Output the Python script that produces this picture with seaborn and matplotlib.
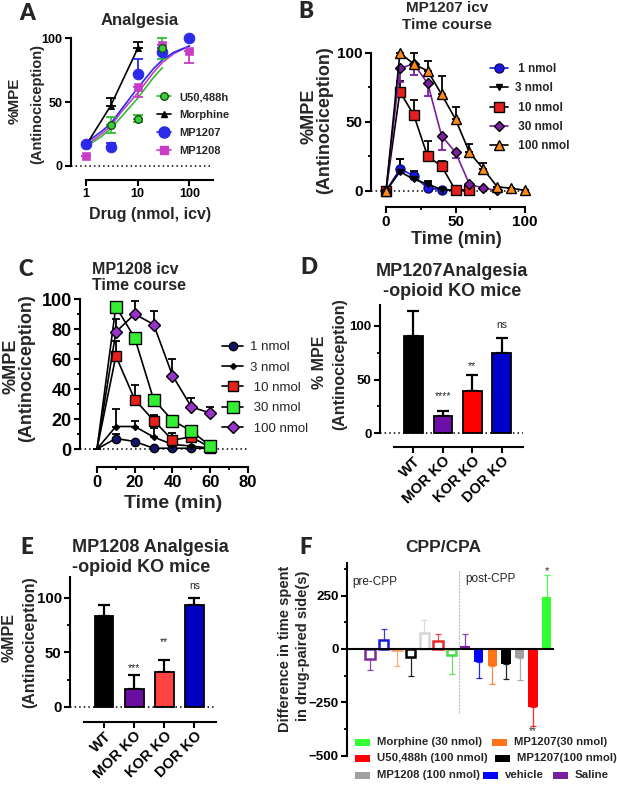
import numpy as np
import pandas as pd
import matplotlib
matplotlib.use("Agg")
import matplotlib.pyplot as plt
import seaborn as sns
from matplotlib.patches import Rectangle
from matplotlib.lines import Line2D
from matplotlib.ticker import FixedLocator, NullLocator

# ---------------- DATA ----------------
# Panel A: dose response (x = nmol, icv)
a_u50_x = [3, 10, 30]
a_u50_y = [32, 37, 92]
a_u50_err = [6, 3, 8]
a_mor_x = [1, 3, 10]
a_mor_y = [16, 47, 92]
a_mor_err = [0, 6, 5]
a_1207_x = [1, 3, 10, 30, 100]
a_1207_y = [17, 15, 72, 89, 100]
a_1207_err = [0, 3, 12, 3, 0]
a_1208_x = [1, 10, 30, 100]
a_1208_y = [8, 62, 95, 90]
a_1208_err = [0, 8, 5, 9]
# fitted curves, values
a_fit_x = [1, 2, 3, 5, 10, 20, 30, 50, 100]
a_fit_1207 = [18, 27, 33, 45, 61, 76, 83, 89, 94]
a_fit_1208 = [16, 25, 31, 43, 57, 73, 81, 88, 94]
a_fit_u50_x = [1, 2, 3, 5, 10, 20, 30]
a_fit_u50 = [15, 23, 29, 39, 53, 69, 77]

# Panel B: MP1207 time course
b_time = [0, 10, 20, 30, 40, 50, 60, 70, 80, 90, 100]
b_1 = [0, 16, 11, 2, 1, 0.5, 0.5]
b_1_err = [0, 7, 2, 1, 0, 0, 0]
b_3 = [0, 14, 8.5, 5, 1, 0.5, 0.5]
b_3_err = [0, 9, 6, 2, 0, 0, 0]
b_10 = [0, 72, 55, 25, 18, 0.5, 0.5]
b_10_err = [0, 8, 11, 11, 4, 0, 0]
b_30 = [0, 89, 92, 78, 40, 28, 5, 2, 0.5]
b_30_err = [0, -10, -8, -9, -10, -4, 0, 0, 0]
b_100 = [0, 100, 92, 87, 70, 52, 28, 16, 3, 2, 0.5]
b_100_err = [0, 0, 8, 7, 13, 9, 6, 4, 0, 0, 0]

# Panel C: MP1208 time course
c_time = [0, 10, 20, 30, 40, 50, 60]
c_1 = [0, 7, 5, 0.5, 0.5, 0.5, 0.5]
c_1_err = [0, 3, 0, 0, 0, 0, 0]
c_3 = [0, 15, 15, 8, 3, 2, 0.5]
c_3_err = [0, 12, 4, 6, 0, 0, 0]
c_10 = [0, 62, 33, 19, 6, 8, 1]
c_10_err = [0, 10, 10, 4, 5, 3, 0]
c_30 = [0, 95, 74, 33, 19, 12, 2]
c_30_err = [0, 0, 0, 0, 0, 0, 0]
c_100 = [0, 78, 90, 83, 49, 28, 24]
c_100_err = [0, 9, 9, 9, 11, 6, 4]

# Panels D / E: KO mice
ko_groups = ["WT", "MOR KO", "KOR KO", "DOR KO"]
d_vals = [91, 16, 39, 75]
d_err = [23, 5, 15, 14]
d_sig = ["", "****", "**", "ns"]
e_vals = [83, 16, 32, 93]
e_err = [10, 13, 11, 7]
e_sig = ["", "***", "**", "ns"]

# Panel F: CPP/CPA
f_groups = ["Saline", "vehicle", "MP1207(30 nmol)", "MP1207(100 nmol)",
            "MP1208 (100 nmol)", "U50,488h (100 nmol)", "Morphine (30 nmol)"]
f_pre = [-45, 40, -5, -38, 75, 38, -30]
f_pre_err = [55, 54, 73, 87, 59, 31, 85]
f_post = [15, -62, -81, -70, -44, -272, 244]
f_post_err = [57, 72, 84, 70, 100, 87, 100]

# ---------------- STYLE ----------------
W, H = 617, 786
sns.set_theme(style="ticks")
plt.rcParams["font.family"] = ["Liberation Sans", "DejaVu Sans"]
plt.rcParams["font.weight"] = "bold"
plt.rcParams["axes.linewidth"] = 1.5
plt.rcParams["xtick.major.width"] = 1.5
plt.rcParams["ytick.major.width"] = 1.5
plt.rcParams["xtick.minor.width"] = 1.3
plt.rcParams["ytick.minor.width"] = 1.3
plt.rcParams["xtick.major.size"] = 4
plt.rcParams["ytick.major.size"] = 4
plt.rcParams["xtick.minor.size"] = 2.5
plt.rcParams["ytick.minor.size"] = 2.5
plt.rcParams["xtick.color"] = "black"
plt.rcParams["ytick.color"] = "black"
plt.rcParams["axes.edgecolor"] = "black"

fig = plt.figure(figsize=(W / 100, H / 100), dpi=100)
fig.patch.set_facecolor("white")


def add_ax(l, t, r, b):
    return fig.add_axes([l / W, 1 - b / H, (r - l) / W, (b - t) / H])


def ftext(x, y, s, size, **kw):
    kw.setdefault("ha", "center")
    kw.setdefault("va", "center")
    fig.text(x / W, 1 - y / H, s, fontsize=size, **kw)


def letter(x, y, s):
    ftext(x, y, s, 16, family=["Lato", "DejaVu Sans"], fontweight="heavy")


def style_ax(ax, labelsize):
    sns.despine(ax=ax)
    ax.tick_params(axis="both", which="both", labelsize=labelsize, pad=2, direction="out")
    ax.patch.set_alpha(0)


def errbars(ax, x, y, e, color, lw=1.3, cap=3.5):
    e = np.asarray(e, float)
    lower = np.where(e < 0, -e, 0)
    upper = np.where(e > 0, e, 0)
    ax.errorbar(x, y, yerr=[lower, upper], fmt="none", ecolor=color,
                elinewidth=lw, capsize=cap, capthick=lw, clip_on=False, zorder=2)


# ---------------- PANEL A ----------------
axA = add_ax(71, 38.3, 213.3, 180)
axA.set_xscale("log")
sns.lineplot(x=a_fit_u50_x, y=a_fit_u50, ax=axA, color="#2fbf2f", lw=1.2)
sns.lineplot(x=a_fit_x, y=a_fit_1208, ax=axA, color="#c83cc8", lw=1.2)
sns.lineplot(x=a_fit_x, y=a_fit_1207, ax=axA, color="#2a2ae8", lw=1.2)
sns.lineplot(x=a_mor_x, y=a_mor_y, ax=axA, color="black", lw=1.2, marker="^",
             markersize=4.5, markeredgecolor="black", clip_on=False)
errbars(axA, a_mor_x, a_mor_y, a_mor_err, "black")
errbars(axA, a_u50_x, a_u50_y, np.array(a_u50_err), "#2fbf2f")
errbars(axA, a_u50_x, a_u50_y, -np.array(a_u50_err), "#2fbf2f")
errbars(axA, a_1207_x, a_1207_y, a_1207_err, "#2a2ae8")
errbars(axA, a_1208_x, a_1208_y, -np.array(a_1208_err), "#c83cc8")
sns.scatterplot(x=a_1207_x, y=a_1207_y, ax=axA, color="#2a2ae8", s=60, marker="o",
                edgecolor="#2a2ae8", zorder=3, clip_on=False)
sns.scatterplot(x=a_1208_x, y=a_1208_y, ax=axA, color="#c83cc8", s=30, marker="s",
                edgecolor="#c83cc8", zorder=3, clip_on=False)
sns.scatterplot(x=a_u50_x, y=a_u50_y, ax=axA, color="#3ccc3c", s=30, marker="o",
                edgecolor="#1a4d1a", linewidth=1, zorder=4, clip_on=False)
axA.axhline(0, ls=(0, (1, 2)), color="black", lw=1.1, zorder=1)
axA.set_xlim(0.513, 290)
axA.set_ylim(-11.2, 100)
axA.spines["left"].set_bounds(0, 100)
axA.spines["bottom"].set_bounds(1, 290)
axA.xaxis.set_major_locator(FixedLocator([1, 10, 100]))
axA.xaxis.set_minor_locator(NullLocator())
axA.set_xticklabels(["1", "10", "100"])
axA.set_yticks([0, 50, 100])
axA.set_xlabel("")
axA.set_ylabel("")
style_ax(axA, 9)
hA = [Line2D([], [], color="#2fbf2f", marker="o", markerfacecolor="#3ccc3c",
             markeredgecolor="#1a4d1a", markersize=5.5, lw=1.2),
      Line2D([], [], color="black", marker="^", markersize=4.5, lw=1.2),
      Line2D([], [], color="#2a2ae8", marker="o", markersize=8, lw=1.2),
      Line2D([], [], color="#c83cc8", marker="s", markersize=5.5, lw=1.2)]
axA.legend(hA, ["U50,488h", "Morphine", "MP1207", "MP1208"], loc="upper left",
           bbox_to_anchor=(157 / W, 1 - 92 / H), bbox_transform=fig.transFigure,
           frameon=False, fontsize=8, handlelength=1.3, handletextpad=0.7,
           labelspacing=0.72, borderpad=0, borderaxespad=0)
letter(27, 13, "A")
ftext(140, 21, "Analgesia", 12)
ftext(15, 101, "%MPE", 11, rotation=90)
ftext(37, 104, "(Antinociception)", 10.5, rotation=90)
ftext(150, 214, "Drug (nmol, icv)", 11.5)

# ---------------- PANEL B ----------------
axB = add_ax(371, 53, 525, 207)
b_series = [
    (b_1, b_1_err, " 1 nmol", "#1a1ae0", "o", 6.5, "#0a0a70", "#1a1ae0"),
    (b_3, b_3_err, "3 nmol", "black", "v", 4.5, "black", "black"),
    (b_10, b_10_err, " 10 nmol", "#e3201c", "s", 6.5, "black", "black"),
    (b_30, b_30_err, " 30 nmol", "#7a1fa0", "D", 5.5, "black", "#7a1fa0"),
    (b_100, b_100_err, " 100 nmol", "#ff8c1a", "^", 7.5, "black", "black"),
]
hB = []
for vals, err, lab, fc, mk, ms, ec, lc in b_series:
    t = b_time[:len(vals)]
    errbars(axB, t, vals, err, lc, lw=1.3, cap=3)
    sns.lineplot(x=t, y=vals, ax=axB, color=lc, lw=1.2, marker=mk, markersize=ms,
                 markerfacecolor=fc, markeredgecolor=ec, markeredgewidth=1,
                 clip_on=False, zorder=3)
    hB.append(Line2D([], [], color=lc, lw=1.2, marker=mk, markersize=ms,
                     markerfacecolor=fc, markeredgecolor=ec))
axB.axhline(0, ls=(0, (1, 2)), color="black", lw=1.1, zorder=1)
axB.set_xlim(-10.8, 100)
axB.set_ylim(-11.6, 100)
axB.spines["left"].set_bounds(0, 100)
axB.spines["bottom"].set_bounds(0, 100)
axB.set_xticks([0, 50, 100])
axB.set_yticks([0, 50, 100])
axB.xaxis.set_minor_locator(FixedLocator([25, 75]))
axB.yaxis.set_minor_locator(FixedLocator([25, 75]))
style_ax(axB, 11)
axB.legend(hB, [s[2] for s in b_series], loc="upper left",
           bbox_to_anchor=(490 / W, 1 - 63 / H), bbox_transform=fig.transFigure,
           frameon=False, fontsize=8.5, handlelength=1.5, handletextpad=0.6,
           labelspacing=0.62, borderpad=0, borderaxespad=0)
letter(306, 11, "B")
ftext(447, 8, "MP1207 icv", 11)
ftext(447, 25, "Time course", 11)
ftext(309, 116, "%MPE", 13, rotation=90)
ftext(325, 120, "(Antinociception)", 13, rotation=90)
ftext(456, 239, "Time (min)", 13)

# ---------------- PANEL C ----------------
axC = add_ax(80, 299, 248, 467)
c_series = [
    (c_1, c_1_err, "1 nmol", "#14146e", "o", 6, "black", "black"),
    (c_3, c_3_err, "3 nmol", "black", "D", 3, "black", "black"),
    (c_10, c_10_err, " 10 nmol", "#e8201a", "s", 6.5, "black", "black"),
    (c_30, c_30_err, " 30 nmol", "#33ee33", "s", 8.5, "black", "black"),
    (c_100, c_100_err, " 100 nmol", "#9933cc", "D", 6, "black", "black"),
]
hC = []
for vals, err, lab, fc, mk, ms, ec, lc in c_series:
    errbars(axC, c_time, vals, err, "black", lw=1.3, cap=3)
    sns.lineplot(x=c_time, y=vals, ax=axC, color=lc, lw=1.2, marker=mk, markersize=ms,
                 markerfacecolor=fc, markeredgecolor=ec, markeredgewidth=1,
                 markevery=list(range(1, len(vals))), clip_on=False, zorder=3)
    hC.append(Line2D([], [], color=lc, lw=1.2, marker=mk, markersize=ms,
                     markerfacecolor=fc, markeredgecolor=ec))
axC.axhline(0, ls=(0, (1, 2)), color="black", lw=1.1, zorder=1)
axC.set_xlim(-9, 80)
axC.set_ylim(-12, 100)
axC.spines["left"].set_bounds(0, 100)
axC.spines["bottom"].set_bounds(0, 80)
axC.set_xticks([0, 20, 40, 60, 80])
axC.set_yticks([0, 20, 40, 60, 80, 100])
axC.xaxis.set_minor_locator(FixedLocator([10, 30, 50, 70]))
axC.yaxis.set_minor_locator(FixedLocator([10, 30, 50, 70, 90]))
style_ax(axC, 12)
axC.tick_params(axis="y", labelsize=13)
axC.legend(hC, [s[2] for s in c_series], loc="upper left",
           bbox_to_anchor=(222 / W, 1 - 341 / H), bbox_transform=fig.transFigure,
           frameon=False, prop={"size": 9.5, "weight": "normal"}, handlelength=1.6,
           handletextpad=0.5, labelspacing=0.62, borderpad=0, borderaxespad=0)
letter(26, 270, "C")
ftext(92, 269, "MP1208 icv", 11.5, ha="left")
ftext(92, 286, "Time course", 11.5, ha="left")
ftext(11, 366, "%MPE", 13, rotation=90)
ftext(27, 368, "(Antinociception)", 13, rotation=90)
ftext(173, 503, "Time (min)", 14)


# ---------------- PANELS D / E ----------------
def ko_panel(box, vals, err, sig, colors, ylim, tick_size, sig_pos):
    ax = add_ax(*box)
    df = pd.DataFrame({"group": ko_groups, "val": vals})
    sns.barplot(data=df, x="group", y="val", hue="group", palette=colors,
                edgecolor="black", linewidth=1.3, width=0.63, ax=ax, legend=False,
                saturation=1, zorder=2)
    ax.errorbar(range(4), vals, yerr=[np.zeros(4), err], fmt="none", ecolor="black",
                elinewidth=1.6, capsize=4.5, capthick=1.6, zorder=1)
    ax.axhline(0, ls=(0, (1, 2)), color="black", lw=1.1, zorder=3)
    for i, (s, p) in enumerate(zip(sig, sig_pos)):
        if s:
            ax.text(i, p, s, ha="center", va="center", fontsize=7.5, fontweight="normal")
    ax.set_xlim(-1.13, 3.72)
    ax.set_ylim(*ylim)
    ax.spines["left"].set_bounds(0, ylim[1])
    ax.spines["bottom"].set_bounds(-0.67, 3.72)
    ax.set_yticks([0, 50, 100])
    ax.yaxis.set_minor_locator(FixedLocator([25, 75]))
    ax.set_xlabel("")
    ax.set_ylabel("")
    style_ax(ax, tick_size)
    ax.tick_params(axis="x", labelsize=10.5, pad=1)
    for lab in ax.get_xticklabels():
        lab.set_rotation(45)
        lab.set_ha("right")
        lab.set_rotation_mode("anchor")
    return ax


axD = ko_panel((380, 305, 523, 447), d_vals, d_err, d_sig,
               ["#000000", "#6e0ea8", "#ff0000", "#0000cc"], (-12.8, 119.5), 9.5,
               [0, 35, 63, 101])
letter(309, 268, "D")
ftext(452, 272, "MP1207Analgesia", 13)
ftext(452, 291, "-opioid KO mice", 13)
ftext(319, 362, "% MPE", 11.5, rotation=90)
ftext(340, 364, "(Antinociception)", 11.5, rotation=90)

axE = ko_panel((70, 577, 216, 722), e_vals, e_err, e_sig,
               ["#000000", "#6a0da0", "#ff4242", "#0000c0"], (-13.8, 119), 10.8,
               [0, 36, 59, 111])
letter(27, 547, "E")
ftext(72, 548, "MP1208 Analgesia", 13, ha="left")
ftext(72, 568, "-opioid KO mice", 13, ha="left")
ftext(9, 638, "%MPE", 11.5, rotation=90)
ftext(30, 642, "(Antinociception)", 11.5, rotation=90)

# ---------------- PANEL F ----------------
axF = add_ax(347, 563, 553, 757)
f_colors = ["#7a1fa0", "#0000ff", "#ff7417", "#000000", "#a0a0a0", "#ff0000", "#33ff33"]
f_pre_edge = ["#7a2a9c", "#1a1adb", "#f4a262", "#000000", "#d6d6d6", "#e82a2a", "#44e044"]
labels = [f"pre {g}" for g in f_groups] + [f"post {g}" for g in f_groups]
dfF = pd.DataFrame({"cond": labels, "val": f_pre + f_post})
sns.barplot(data=dfF, x="cond", y="val", hue="cond", palette=f_pre_edge + f_colors,
            width=0.69, ax=axF, legend=False, saturation=1, linewidth=0, zorder=2)
for i, cont in enumerate(axF.containers):
    for p in cont:
        if i < 7:
            p.set_facecolor("white")
            p.set_edgecolor(f_pre_edge[i])
            p.set_linewidth(1.8)
pos = np.arange(14)
vals_all = np.array(f_pre + f_post, float)
errs_all = np.array(f_pre_err + f_post_err, float)
ecols = f_pre_edge + f_colors
for x, v, e, c in zip(pos, vals_all, errs_all, ecols):
    yerr = [[0], [e]] if v >= 0 else [[e], [0]]
    axF.errorbar([x], [v], yerr=yerr, fmt="none", ecolor=c, elinewidth=0.9,
                 capsize=2.5, capthick=0.9, zorder=1, alpha=0.85)
axF.set_xlim(-1.69, 13.46)
axF.set_ylim(-505, 402)
axF.spines["bottom"].set_position(("data", 0))
axF.spines["bottom"].set_linewidth(1.5)
axF.spines["left"].set_bounds(-500, 402)
axF.set_yticks([-500, -250, 0, 250])
axF.yaxis.set_minor_locator(FixedLocator([-375, -125, 125, 375]))
axF.set_xlabel("")
axF.set_ylabel("")
style_ax(axF, 9.6)
axF.tick_params(axis="x", which="both", length=0, labelbottom=False)
axF.plot([6.54, 6.54], [-300, 370], color="#bbbbbb", lw=0.8, ls=(0, (2, 1)), zorder=0)
axF.text(13, 362, "*", ha="center", va="center", fontsize=8, fontweight="normal", zorder=6)
axF.text(12, -384, "**", ha="center", va="center", fontsize=7, fontweight="normal",
         color="#333333", zorder=6)
ftext(352, 582, "pre-CPP", 8.5, ha="left", fontweight="normal")
ftext(465, 579, "post-CPP", 8.5, ha="left", fontweight="normal")
letter(306, 547, "F")
ftext(443, 547, "CPP/CPA", 12.5)
ftext(285, 649, "Difference in time spent", 10.5, rotation=90)
ftext(303, 646, "in drug-paired side(s)", 10.5, rotation=90)

# legend of panel F (manual layout as in the reference)
leg_items = [
    (355, 742, f_colors[6], "Morphine (30 nmol)"),
    (492, 742, f_colors[2], "MP1207(30 nmol)"),
    (355, 758, f_colors[5], "U50,488h (100 nmol)"),
    (495, 758, f_colors[3], "MP1207(100 nmol)"),
    (355, 775, f_colors[4], "MP1208 (100 nmol)"),
    (483, 775, f_colors[1], "vehicle"),
    (553, 775, f_colors[0], "Saline"),
]
for x, y, c, t in leg_items:
    fig.patches.append(Rectangle((x / W, 1 - (y + 3.5) / H), 15 / W, 7 / H,
                                 transform=fig.transFigure, facecolor=c,
                                 edgecolor="none", zorder=5))
    ftext(x + 22, y, t, 8.2, ha="left")

fig.savefig("out.png", dpi=100, facecolor="white")
